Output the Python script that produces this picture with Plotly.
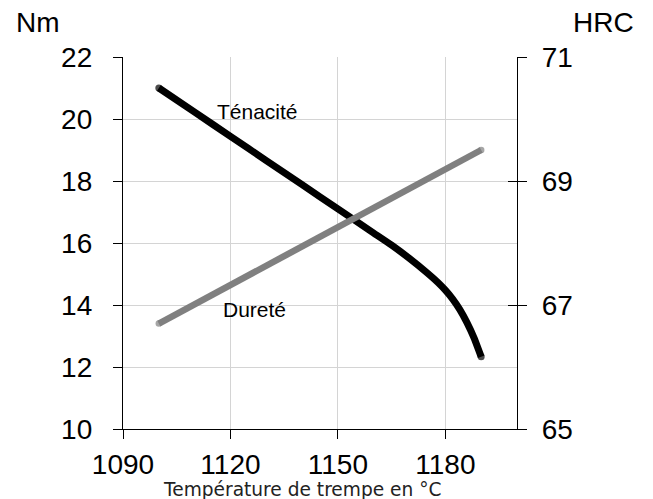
import plotly.graph_objects as go

# Ténacité (Nm, left axis)
ten_x = [1100, 1110, 1120, 1130, 1140, 1150, 1160, 1165, 1170, 1175, 1178, 1180, 1182, 1184, 1186, 1188, 1190]
ten_y = [21.0, 20.22, 19.44, 18.66, 17.88, 17.1, 16.32, 15.93, 15.5, 15.03, 14.72, 14.48, 14.2, 13.86, 13.44, 12.94, 12.33]

# Dureté (HRC, right axis)
dur_x = [1100, 1190]
dur_y = [66.7, 69.5]

x_ticks = [1090, 1120, 1150, 1180]
nm_ticks = [10, 12, 14, 16, 18, 20, 22]
hrc_ticks = [65, 67, 69, 71]

ARIAL = "Liberation Sans, Arial, sans-serif"

# plot area in page pixels (page has an 8px body margin)
PL, PT, PW, PH = 122.5, 57.3, 394.2, 371.7
OFF = 8
W, H = 653, 499


def end_caps(n, size):
    return [size if i in (0, n - 1) else 0 for i in range(n)]


fig = go.Figure()
fig.add_trace(go.Scatter(x=ten_x, y=ten_y, mode="lines+markers",
                         line=dict(color="black", width=7, shape="spline", smoothing=0.4),
                         marker=dict(color="black", size=end_caps(len(ten_x), 7), line=dict(width=0)),
                         showlegend=False, hoverinfo="skip"))
fig.add_trace(go.Scatter(x=dur_x, y=dur_y, mode="lines+markers", yaxis="y2",
                         line=dict(color="#808080", width=6.5),
                         marker=dict(color="#808080", size=end_caps(len(dur_x), 6.5), line=dict(width=0)),
                         showlegend=False, hoverinfo="skip"))
fig.add_trace(go.Scatter(x=[], y=[], yaxis="y3", showlegend=False, hoverinfo="skip"))

fig.update_layout(
    width=W, height=H,
    margin=dict(l=PL - OFF, r=W - (PL - OFF) - PW, t=PT - OFF, b=H - (PT - OFF) - PH),
    paper_bgcolor="white", plot_bgcolor="white",
    font=dict(family=ARIAL, color="black", size=28),
    xaxis=dict(range=[1090, 1200], tickvals=x_ticks, ticks="outside", ticklen=9,
               tickcolor="black", showline=True, linecolor="black", linewidth=1.3,
               showgrid=True, gridcolor="#d4d4d4", gridwidth=1, zeroline=False,
               tickfont=dict(size=28), ticklabelstandoff=1),
    yaxis=dict(range=[10, 22], tickvals=nm_ticks, ticks="outside", ticklen=9,
               tickcolor="black", showline=True, linecolor="black", linewidth=1.3,
               showgrid=True, gridcolor="#d4d4d4", gridwidth=1, zeroline=False,
               tickfont=dict(size=28), ticklabelstandoff=15),
    yaxis2=dict(range=[65, 71], tickvals=hrc_ticks, ticks="outside", ticklen=9,
                tickcolor="black", showline=True, linecolor="black", linewidth=1.3,
                overlaying="y", side="right", showgrid=False, zeroline=False,
                tickfont=dict(size=28), ticklabelstandoff=9),
    yaxis3=dict(range=[65, 71], tickvals=hrc_ticks, ticks="inside", ticklen=9,
                tickcolor="black", showline=False, overlaying="y", side="right",
                showgrid=False, zeroline=False, showticklabels=False),
)


def px_to_paper(xp, yp):
    return (xp - PL) / PW, (PT + PH - yp) / PH


fig.add_annotation(x=1127.6, y=20.25, xref="x", yref="y", text="Ténacité",
                   showarrow=False, font=dict(size=21, family=ARIAL))
fig.add_annotation(x=1126.7, y=13.85, xref="x", yref="y", text="Dureté",
                   showarrow=False, font=dict(size=21, family=ARIAL))

nx, ny = px_to_paper(37, 22.5)
fig.add_annotation(x=nx, y=ny, xref="paper", yref="paper", text="Nm",
                   xanchor="center", yanchor="middle",
                   showarrow=False, font=dict(size=28, family=ARIAL))
hx, hy = px_to_paper(603, 22.5)
fig.add_annotation(x=hx, y=hy, xref="paper", yref="paper", text="HRC",
                   xanchor="center", yanchor="middle",
                   showarrow=False, font=dict(size=28, family=ARIAL))
tx, ty = px_to_paper(302, 489)
fig.add_annotation(x=tx, y=ty, xref="paper", yref="paper",
                   text="Température de trempe en °C", showarrow=False,
                   xanchor="center", yanchor="middle",
                   font=dict(size=18.6, family="DejaVu Sans", color="#222"))

fig.write_html("out.html")
